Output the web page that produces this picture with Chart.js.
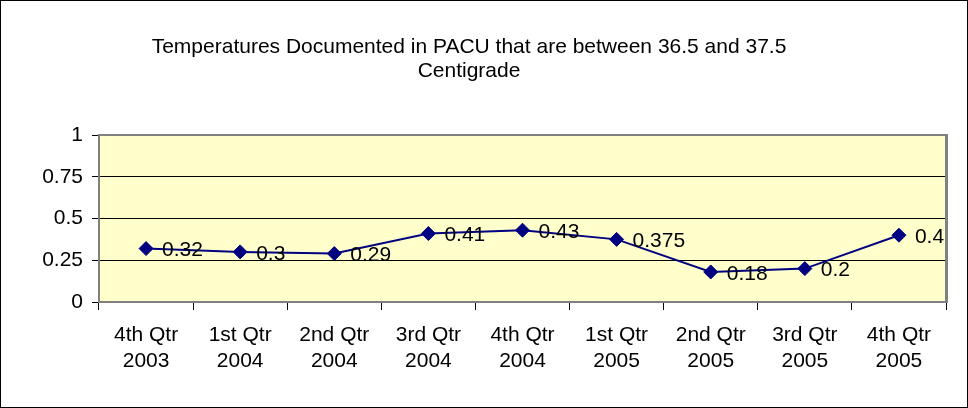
<!DOCTYPE html>
<html>
<head>
<meta charset="utf-8">
<script src="https://cdn.jsdelivr.net/npm/chart.js@4"></script>
<style>
  html, body { margin: 0; padding: 0; background: #fff; }
  #wrap { width: 968px; height: 408px; position: relative; }
</style>
</head>
<body>
<div id="wrap"><canvas id="tempChart" width="968" height="408"></canvas></div>
<script>
// Chart data
const quarters = [
  ['4th Qtr', '2003'], ['1st Qtr', '2004'], ['2nd Qtr', '2004'],
  ['3rd Qtr', '2004'], ['4th Qtr', '2004'], ['1st Qtr', '2005'],
  ['2nd Qtr', '2005'], ['3rd Qtr', '2005'], ['4th Qtr', '2005']
];
const rates = [0.32, 0.3, 0.29, 0.41, 0.43, 0.375, 0.18, 0.2, 0.4];
const yTicks = ['0', '0.25', '0.5', '0.75', '1'];
const titleLines = ['Temperatures Documented in PACU that are between 36.5 and 37.5', 'Centigrade'];

const FONT = '"Liberation Sans", Arial, sans-serif';

// Frame, plot background and title
const framePlugin = {
  id: 'frame',
  beforeDraw(chart) {
    const { ctx, chartArea: a } = chart;
    ctx.save();
    ctx.fillStyle = '#fff';
    ctx.fillRect(0, 0, chart.width, chart.height);
    ctx.fillStyle = '#FFFFCC';
    ctx.fillRect(a.left, a.top, a.right - a.left, a.bottom - a.top);
    ctx.strokeStyle = '#000';
    ctx.lineWidth = 1;
    ctx.strokeRect(0.5, 0.5, chart.width - 1, chart.height - 1);
    ctx.fillStyle = '#000';
    ctx.font = '21px ' + FONT;
    ctx.textAlign = 'center';
    ctx.textBaseline = 'middle';
    ctx.fillText(titleLines[0], 469, 47);
    ctx.fillText(titleLines[1], 469, 71);
    ctx.restore();
  },
  afterDatasetsDraw(chart) {
    const { ctx, chartArea: a } = chart;
    ctx.save();
    ctx.strokeStyle = '#808080';
    ctx.lineWidth = 2;
    ctx.strokeRect(a.left, a.top, a.right - a.left, a.bottom - a.top);
    ctx.fillStyle = '#808080';
    ctx.fillRect(a.right, a.top - 1, 2, a.bottom - a.top + 2);
    // value labels
    const meta = chart.getDatasetMeta(0);
    ctx.fillStyle = '#000';
    ctx.font = '21px ' + FONT;
    ctx.textAlign = 'left';
    ctx.textBaseline = 'middle';
    meta.data.forEach((pt, i) => {
      ctx.fillText(String(rates[i]), pt.x + 16, pt.y + 2);
    });
    ctx.restore();
  }
};

const ctx = document.getElementById('tempChart').getContext('2d');
new Chart(ctx, {
  type: 'line',
  data: {
    labels: quarters,
    datasets: [{
      data: rates,
      borderColor: '#000080',
      backgroundColor: '#000080',
      borderWidth: 2,
      pointStyle: 'rectRot',
      pointRadius: 7,
      pointBorderWidth: 1,
      pointBorderColor: '#000080',
      pointBackgroundColor: '#000080',
      tension: 0
    }]
  },
  options: {
    responsive: false,
    animation: false,
    devicePixelRatio: 1,
    layout: { padding: { top: 135, right: 22, left: 0, bottom: 0 } },
    plugins: {
      legend: { display: false },
      title: { display: false },
      tooltip: { enabled: false }
    },
    scales: {
      x: {
        offset: true,
        grid: {
          offset: true,
          drawOnChartArea: false,
          drawTicks: true,
          tickLength: 8,
          color: '#000'
        },
        border: { display: true, color: '#808080', width: 2 },
        ticks: {
          color: '#000',
          font: { family: FONT, size: 21, lineHeight: 1.25 },
          padding: 12,
          maxRotation: 0,
          autoSkip: false
        },
        afterFit(scale) { scale.height = 106; }
      },
      y: {
        min: 0,
        max: 1,
        grid: {
          color: '#000',
          lineWidth: 1,
          tickLength: 7,
          drawTicks: true
        },
        border: { display: true, color: '#808080', width: 2 },
        ticks: {
          stepSize: 0.25,
          color: '#000',
          padding: 9,
          font: { family: FONT, size: 21 },
          callback: (v, i) => yTicks[i]
        },
        afterFit(scale) { scale.width = 99; }
      }
    }
  },
  plugins: [framePlugin]
});
</script>
</body>
</html>
